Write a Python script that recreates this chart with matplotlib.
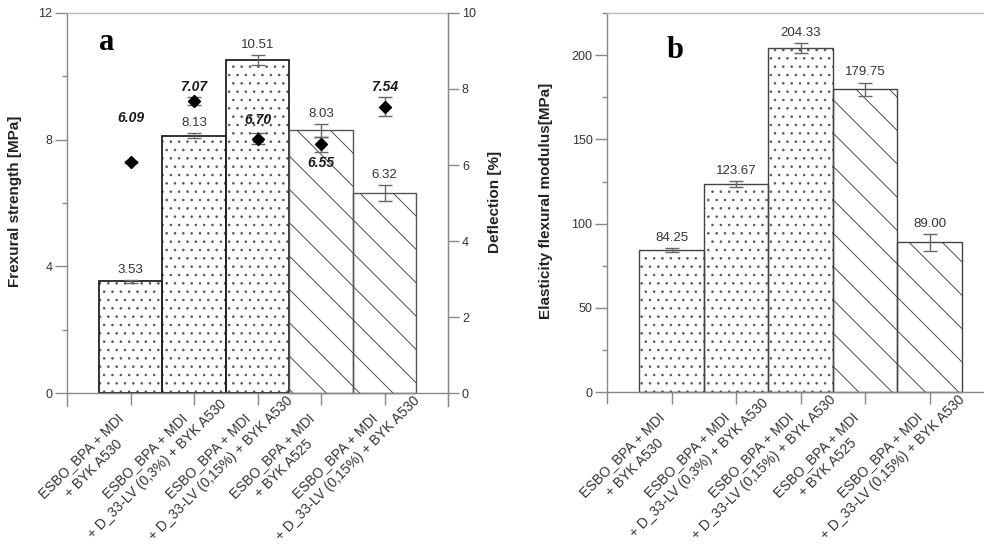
import matplotlib
matplotlib.use("Agg")
import matplotlib.pyplot as plt
from matplotlib.ticker import MultipleLocator

plt.rcParams['font.family'] = ['Liberation Sans', 'DejaVu Sans']
plt.rcParams['hatch.linewidth'] = 0.6

# Próbki (etykiety osi X)
samples = [
    'ESBO_BPA + MDI\n+ BYK A530',
    'ESBO_BPA + MDI\n+ D_33-LV (0,3%) + BYK A530',
    'ESBO_BPA + MDI\n+ D_33-LV (0,15%) + BYK A530',
    'ESBO_BPA + MDI\n+ BYK A525',
    'ESBO_BPA + MDI\n+ D_33-LV (0,15%) + BYK A530',
]

# a) wytrzymałość na zginanie [MPa]
strength = [3.53, 8.13, 10.51, 8.29, 6.32]
strength_err = [0.04, 0.09, 0.15, 0.2, 0.25]
strength_labels = ['3.53', '8.13', '10.51', '8.03', '6.32']

# a) ugięcie [%] - prawa oś
deflection = [6.08, 7.69, 6.69, 6.55, 7.53]
deflection_err = [0.03, 0.1, 0.14, 0.2, 0.25]
deflection_labels = ['6.09', '7.07', '6.70', '6.55', '7.54']

# b) moduł sprężystości przy zginaniu [MPa]
modulus = [84.25, 123.67, 204.33, 179.75, 89.00]
modulus_err = [1.2, 1.8, 3.0, 4.0, 5.0]
modulus_labels = ['84.25', '123.67', '204.33', '179.75', '89.00']

hatches = ['..', '..', '..', '\\', '\\']
hatch_colors = ['#555555'] * 3 + ['#333333'] * 2
SPINE = '#888888'
TXT = '#333333'

x = list(range(len(samples)))

fig = plt.figure(figsize=(9.84, 5.53), dpi=100)
ax1 = fig.add_axes([0.0681, 0.2658, 0.3872, 0.7107])
ax2 = ax1.twinx()
ax3 = fig.add_axes([0.6169, 0.2712, 0.3933, 0.7052])


def style_axes(ax, ylim, major, minor):
    ax.set_xlim(-1, 5)
    ax.set_ylim(*ylim)
    ax.spines['bottom'].set_position(('data', 0))
    for s in ax.spines.values():
        s.set_color(SPINE)
        s.set_linewidth(1)
    ax.spines['top'].set_color('#bbbbbb')
    ax.yaxis.set_major_locator(MultipleLocator(major))
    ax.yaxis.set_minor_locator(MultipleLocator(minor))
    ax.tick_params(axis='y', which='major', length=8.5, width=1, color=SPINE,
                   labelsize=9, labelcolor=TXT, pad=2)
    ax.tick_params(axis='y', which='minor', length=3.6, width=1, color=SPINE)
    ax.set_xticks(x)
    ax.set_xticklabels([])
    ax.tick_params(axis='x', length=8.5, width=1, color=SPINE)
    # etykiety próbek pod kątem 45 stopni
    for i, name in enumerate(samples):
        ax.annotate(name, xy=(i, 0), xytext=(-39, -42), textcoords='offset points',
                    rotation=45, rotation_mode='anchor', ha='center', va='top',
                    multialignment='center', linespacing=1.3, fontsize=10,
                    color=TXT, annotation_clip=False)


def draw_bars(ax, vals, err, labels, edges, lw):
    # warstwa z kreskowaniem
    hbars = ax.bar(x, vals, width=1.0, color='white', linewidth=0, zorder=2)
    for b, h, hc in zip(hbars, hatches, hatch_colors):
        b.set_edgecolor(hc)
        b.set_hatch(h)
        b.set_linewidth(0)
    # obrys słupków
    ax.bar(x, vals, width=1.0, fill=False, edgecolor=edges, linewidth=lw, zorder=2.1)
    ax.errorbar(x, vals, yerr=err, fmt='none', ecolor='#666666', elinewidth=1,
                capsize=5, capthick=1, zorder=3)
    for i in x:
        ax.annotate(labels[i], (i, vals[i] + err[i]), xytext=(0, 3),
                    textcoords='offset points', ha='center', va='bottom',
                    fontsize=9.5, color=TXT)


# --- panel a ---
style_axes(ax1, (-0.41, 12), 4, 2)
draw_bars(ax1, strength, strength_err, strength_labels,
          ['#222222'] * 3 + ['#555555'] * 2, [1.3] * 3 + [1.0] * 2)
ax1.set_ylabel('Frexural strength [MPa]', fontsize=11, fontweight='bold', color='#222222')
ax1.yaxis.set_label_coords(-0.118, 0.52)

ax2.set_ylim(-0.342, 10)
ax2.yaxis.set_major_locator(MultipleLocator(2))
for side in ['top', 'bottom', 'left']:
    ax2.spines[side].set_visible(False)
ax2.spines['right'].set_color(SPINE)
ax2.tick_params(axis='y', length=8, width=1, color=SPINE, labelsize=9, labelcolor=TXT, pad=2)
ax2.errorbar(x, deflection, yerr=deflection_err, fmt='D', color='black', ms=6,
             ecolor='#666666', elinewidth=1, capsize=5, capthick=1, zorder=4)
defl_dy = [32, 10, 13.5, -13.5, 14]
for i in x:
    ax2.annotate(deflection_labels[i], (i, deflection[i]), xytext=(0, defl_dy[i]),
                 textcoords='offset points', ha='center', va='center', fontsize=10,
                 fontweight='bold', fontstyle='italic', color='#1a1a1a')
ax2.set_ylabel('Deflection [%]', fontsize=11, fontweight='bold', color='#222222')
ax2.yaxis.set_label_coords(1.105, 0.52)

ax1.text(0.105, 0.906, 'a', transform=ax1.transAxes, ha='center', va='baseline',
         fontsize=22, fontweight='bold', family='Liberation Serif')

# --- panel b ---
style_axes(ax3, (-6.5, 225), 50, 25)
ax3.spines['right'].set_visible(False)
draw_bars(ax3, modulus, modulus_err, modulus_labels, ['#444444'] * 5, [1.0] * 5)
ax3.set_ylabel('Elasticity flexural modulus[MPa]', fontsize=11, fontweight='bold', color='#222222')
ax3.yaxis.set_label_coords(-0.14, 0.518)
ax3.text(0.176, 0.885, 'b', transform=ax3.transAxes, ha='center', va='baseline',
         fontsize=22, fontweight='bold', family='Liberation Serif')

fig.savefig('out.png', dpi=100)
